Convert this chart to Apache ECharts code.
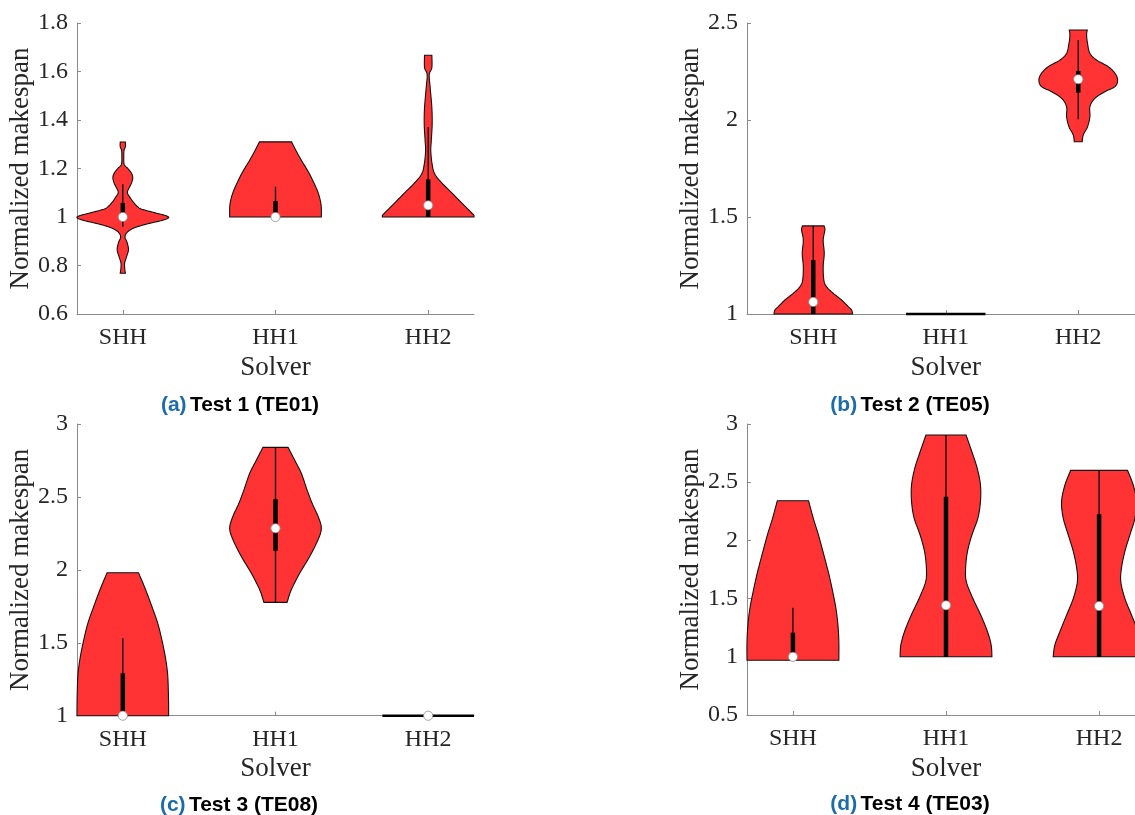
<!DOCTYPE html>
<html>
<head>
<meta charset="utf-8">
<script src="https://cdn.jsdelivr.net/npm/echarts@6/dist/echarts.min.js"></script>
<style>
html,body{margin:0;padding:0;background:#fff;}
#main{width:1135px;height:815px;}
</style>
</head>
<body>
<div id="main"></div>
<script>
// ---------- data ----------
const categories = ['SHH', 'HH1', 'HH2'];
const yAxisTitle = 'Normalized makespan';
const xAxisTitle = 'Solver';
const captionTags = ['(a)', '(b)', '(c)', '(d)'];
const captionTexts = ['Test 1 (TE01)', 'Test 2 (TE05)', 'Test 3 (TE08)', 'Test 4 (TE03)'];

// y-axis ranges [min, max, interval]
const yRangeA = [0.6, 1.8, 0.2];
const yRangeB = [1, 2.5, 0.5];
const yRangeC = [1, 3, 0.5];
const yRangeD = [0.5, 3, 0.5];

// violin profiles: [value, half width (in category units)], bottom to top
const aSHH = [[0.768,0.017],[0.785,0.013],[0.81,0.012],[0.835,0.024],[0.865,0.037],[0.895,0.028],[0.915,0.015],[0.93,0.02],[0.945,0.044],[0.958,0.087],[0.972,0.163],[0.986,0.257],[0.997,0.30],[1.006,0.279],[1.018,0.207],[1.032,0.126],[1.042,0.098],[1.062,0.068],[1.08,0.048],[1.10,0.03],[1.115,0.037],[1.14,0.057],[1.162,0.065],[1.18,0.057],[1.20,0.033],[1.217,0.009],[1.25,0.0065],[1.275,0.008],[1.29,0.017],[1.309,0.017]];
const aHH1 = [[1.0,0.30],[1.038,0.30],[1.066,0.294],[1.107,0.275],[1.176,0.224],[1.245,0.159],[1.31,0.105]];
const aHH2 = [[1.0,0.30],[1.008,0.298],[1.025,0.272],[1.052,0.229],[1.094,0.163],[1.135,0.098],[1.176,0.044],[1.217,0.026],[1.272,0.017],[1.313,0.02],[1.382,0.026],[1.451,0.024],[1.533,0.013],[1.588,0.007],[1.616,0.024],[1.667,0.024]];

const bSHH = [[1.0,0.297],[1.021,0.289],[1.038,0.264],[1.072,0.214],[1.107,0.15],[1.141,0.10],[1.175,0.08],[1.244,0.075],[1.313,0.083],[1.381,0.075],[1.433,0.088],[1.454,0.082]];
const bHH1 = [[1.0,0.3],[1.0,0.3]];
const bHH2 = [[1.888,0.03],[1.923,0.038],[1.965,0.07],[2.017,0.088],[2.069,0.088],[2.112,0.126],[2.146,0.201],[2.172,0.277],[2.206,0.297],[2.241,0.277],[2.275,0.226],[2.309,0.138],[2.344,0.088],[2.395,0.07],[2.438,0.063],[2.464,0.068]];

const cSHH = [[1.0,0.3],[1.062,0.3],[1.176,0.298],[1.291,0.293],[1.405,0.278],[1.519,0.256],[1.633,0.229],[1.747,0.191],[1.862,0.15],[1.98,0.103]];
const cHH1 = [[1.777,0.076],[1.862,0.103],[1.976,0.158],[2.09,0.223],[2.205,0.278],[2.285,0.30],[2.364,0.28],[2.456,0.24],[2.547,0.207],[2.662,0.169],[2.753,0.125],[2.84,0.082]];
const cHH2 = [[1.0,0.3],[1.0,0.3]];

const dSHH = [[0.97,0.3],[1.13,0.3],[1.273,0.294],[1.416,0.281],[1.559,0.26],[1.703,0.236],[1.846,0.208],[2.046,0.167],[2.19,0.133],[2.341,0.102]];
const dHH1 = [[1.0,0.3],[1.101,0.295],[1.216,0.271],[1.359,0.227],[1.503,0.175],[1.645,0.133],[1.76,0.128],[1.903,0.14],[2.046,0.169],[2.19,0.208],[2.333,0.225],[2.476,0.225],[2.619,0.204],[2.762,0.169],[2.905,0.131]];
const dHH2 = [[1.0,0.3],[1.101,0.289],[1.216,0.256],[1.359,0.212],[1.503,0.168],[1.645,0.142],[1.76,0.146],[1.903,0.168],[2.046,0.201],[2.19,0.234],[2.333,0.245],[2.476,0.223],[2.602,0.186]];

// box stats: [lower whisker, q1, median, q3, upper whisker]
const aBox = [[0.96,1.0,1.0,1.058,1.135],[1.0,1.0,1.0,1.066,1.125],[1.0,1.0,1.048,1.155,1.371]];
const bBox = [[1.0,1.0,1.062,1.278,1.454],null,[2.004,2.141,2.21,2.253,2.412]];
const cBox = [[1.0,1.0,1.0,1.291,1.531],[1.777,2.131,2.285,2.484,2.84],[1.0,1.0,1.0,1.0,1.0]];
const dBox = [[1.0,1.0,1.0,1.207,1.422],[1.0,1.0,1.442,2.376,2.905],[1.0,1.0,1.436,2.224,2.602]];

// ---------- chart ----------
const FILL = '#ff3333';
const SERIF = '"Liberation Serif","Times New Roman",serif';
const TXT = '#262626';
const AX = '#8a8a8a';

function catmull(pts, seg) {
  if (pts.length < 3) return pts.slice();
  const out = [];
  for (let i = 0; i < pts.length - 1; i++) {
    const p0 = pts[Math.max(0, i - 1)], p1 = pts[i], p2 = pts[i + 1], p3 = pts[Math.min(pts.length - 1, i + 2)];
    for (let s = 0; s < seg; s++) {
      const t = s / seg, t2 = t * t, t3 = t2 * t;
      const f = (a, b, c, d) => 0.5 * ((2 * b) + (-a + c) * t + (2 * a - 5 * b + 4 * c - d) * t2 + (-a + 3 * b - 3 * c + d) * t3);
      out.push([f(p0[0], p1[0], p2[0], p3[0]), f(p0[1], p1[1], p2[1], p3[1])]);
    }
  }
  out.push(pts[pts.length - 1]);
  return out;
}

function violinSeries(idx, profiles, boxes) {
  return {
    type: 'custom',
    xAxisIndex: idx, yAxisIndex: idx,
    clip: false,
    silent: true,
    data: profiles.map((p, i) => [i + 1, p[0][0]]),
    encode: { x: 0, y: 1 },
    renderItem: function (params, api) {
      const pos = api.value(0);
      const prof = profiles[params.dataIndex];
      const box = boxes[params.dataIndex];
      const children = [];
      const flat = prof[0][0] === prof[prof.length - 1][0];
      if (flat) {
        const w = prof[0][1], v = prof[0][0];
        const a = api.coord([pos - w, v]), b = api.coord([pos + w, v]);
        children.push({ type: 'line', shape: { x1: a[0], y1: a[1], x2: b[0], y2: b[1] },
          style: { stroke: '#000', lineWidth: 2.6 } });
      } else {
        const right = catmull(prof.map(([v, w]) => api.coord([pos + w, v])), 8);
        const left = catmull(prof.map(([v, w]) => api.coord([pos - w, v])), 8);
        const pts = right.concat(left.reverse());
        children.push({ type: 'polygon', shape: { points: pts },
          style: { fill: FILL, stroke: '#111', lineWidth: 1.1 } });
      }
      if (box) {
        const [lo, q1, med, q3, hi] = box;
        const wl = api.coord([pos, lo]), wh = api.coord([pos, hi]);
        if (hi > lo) {
          children.push({ type: 'line', shape: { x1: wl[0], y1: wl[1], x2: wh[0], y2: wh[1] },
            style: { stroke: '#111', lineWidth: 1.4 } });
        }
        const b1 = api.coord([pos, q1]), b3 = api.coord([pos, q3]);
        if (q3 > q1) {
          children.push({ type: 'line', shape: { x1: b1[0], y1: b1[1], x2: b3[0], y2: b3[1] },
            style: { stroke: '#000', lineWidth: 4.5, lineCap: 'butt' } });
        }
        const m = api.coord([pos, med]);
        children.push({ type: 'circle', shape: { cx: m[0], cy: m[1], r: 4.6 },
          style: { fill: '#fff', stroke: '#8c8c8c', lineWidth: 0.8 } });
      }
      return { type: 'group', children: children };
    }
  };
}

const grids = [
  { left: 77, top: 23, width: 397, height: 291 },
  { left: 747, top: 23, width: 397.5, height: 291 },
  { left: 77, top: 424, width: 397, height: 291.7 },
  { left: 747, top: 424, width: 398, height: 291 }
].map(g => Object.assign({ outerBoundsMode: 'none', containLabel: false }, g));

const xRanges = [[0.7, 3.3], [0.5, 3.5], [0.7, 3.3], [0.7, 3.3]];
const yRanges = [yRangeA, yRangeB, yRangeC, yRangeD];

const xAxes = xRanges.map((r, i) => ({
  type: 'value', gridIndex: i, min: r[0], max: r[1],
  name: xAxisTitle, nameLocation: 'middle', nameGap: 40,
  nameTextStyle: { fontFamily: SERIF, fontSize: 27, color: TXT },
  axisLine: { show: true, lineStyle: { color: AX, width: 1 } },
  axisTick: { show: true, inside: true, length: 4, customValues: [1, 2, 3], lineStyle: { color: AX } },
  axisLabel: { show: true, customValues: [1, 2, 3], margin: 12,
    formatter: v => categories[Math.round(v) - 1] || '',
    fontFamily: SERIF, fontSize: 24, color: TXT },
  splitLine: { show: false }
}));

const yAxes = yRanges.map((r, i) => ({
  type: 'value', gridIndex: i, min: r[0], max: r[1], interval: r[2],
  name: yAxisTitle, nameLocation: 'middle', nameGap: 42,
  nameTextStyle: { fontFamily: SERIF, fontSize: 27, color: TXT },
  axisLine: { show: true, lineStyle: { color: AX, width: 1 } },
  axisTick: { show: true, inside: true, length: 4, lineStyle: { color: AX } },
  axisLabel: { show: true, margin: 9, fontFamily: SERIF, fontSize: 24, color: TXT,
    formatter: v => String(Math.round(v * 100) / 100) },
  splitLine: { show: false }
}));

const captionPos = [[240, 405], [910, 405], [239, 805], [910, 804]];
const graphics = captionPos.map((p, i) => ({
  type: 'text', x: p[0], y: p[1],
  style: {
    text: '{t|' + captionTags[i] + '} {k|' + captionTexts[i] + '}',
    align: 'center', verticalAlign: 'middle',
    rich: {
      t: { fontFamily: '"Liberation Sans",Arial,sans-serif', fontWeight: 'bold', fontSize: 21, fill: '#1c6cab', color: '#1c6cab' },
      k: { fontFamily: '"Liberation Sans",Arial,sans-serif', fontWeight: 'bold', fontSize: 21, fill: '#000', color: '#000' }
    }
  }
}));

const option = {
  animation: false,
  backgroundColor: '#fff',
  grid: grids,
  xAxis: xAxes,
  yAxis: yAxes,
  graphic: graphics,
  series: [
    violinSeries(0, [aSHH, aHH1, aHH2], aBox),
    violinSeries(1, [bSHH, bHH1, bHH2], bBox),
    violinSeries(2, [cSHH, cHH1, cHH2], cBox),
    violinSeries(3, [dSHH, dHH1, dHH2], dBox)
  ]
};

const chart = echarts.init(document.getElementById('main'), null, { renderer: 'canvas' });
chart.setOption(option);
</script>
</body>
</html>
